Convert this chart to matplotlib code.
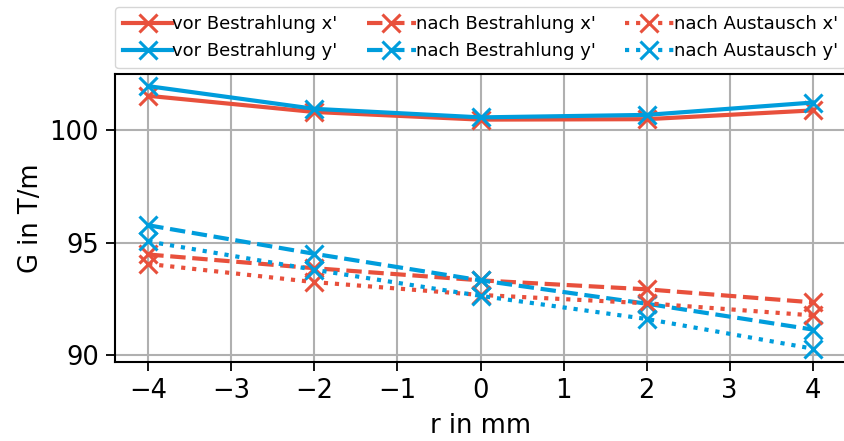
import matplotlib
matplotlib.use("Agg")
from matplotlib import pyplot as plt
import numpy as np

r = [-4, -2, 0, 2, 4]

vor_x = [101.53, 100.81, 100.47, 100.49, 100.88]
vor_y = [101.96, 100.95, 100.57, 100.68, 101.23]
nach_bestr_x = [94.47, 93.86, 93.32, 92.92, 92.34]
nach_bestr_y = [95.77, 94.50, 93.32, 92.28, 91.13]
nach_aust_x = [94.05, 93.24, 92.67, 92.30, 91.76]
nach_aust_y = [95.05, 93.79, 92.63, 91.60, 90.28]

red = "#e8503c"
blue = "#009ddc"

plt.rcParams["font.family"] = "DejaVu Sans"

fig = plt.figure(figsize=(8.44, 4.41), dpi=100)
ax = fig.add_axes([115 / 844, 1 - 361.7 / 441, 731 / 844, 287.7 / 441])

kw = dict(marker="x", ms=13, mew=2.2, lw=3)
ax.plot(r, vor_x, "-", color=red, label="vor Bestrahlung x'", **kw)
ax.plot(r, vor_y, "-", color=blue, label="vor Bestrahlung y'", **kw)
ax.plot(r, nach_bestr_x, "--", color=red, label="nach Bestrahlung x'", **kw)
ax.plot(r, nach_bestr_y, "--", color=blue, label="nach Bestrahlung y'", **kw)
ax.plot(r, nach_aust_x, ":", color=red, label="nach Austausch x'", **kw)
ax.plot(r, nach_aust_y, ":", color=blue, label="nach Austausch y'", **kw)

ax.set_xlim(-4.4, 4.4)
ax.set_ylim(89.7, 102.5)
ax.set_xticks(np.arange(-4, 5, 1))
ax.set_yticks([90, 95, 100])
ax.grid(True, color="#b0b0b0", lw=1.5)
ax.tick_params(labelsize=18.5, width=1.3, length=6.5, pad=5)
for s in ax.spines.values():
    s.set_linewidth(1.5)

ax.set_xlabel("r in mm", fontsize=18.5, labelpad=7)
ax.set_ylabel("G in T/m", fontsize=18.5, labelpad=4)

ax.legend(bbox_to_anchor=(0, 1.02, 1, 0.102), loc="lower left", mode="expand",
          ncol=3, fontsize=13, handletextpad=0.0, borderaxespad=0.0,
          handlelength=2.7, borderpad=0.45, fancybox=True)

fig.savefig("out.png", dpi=100)
